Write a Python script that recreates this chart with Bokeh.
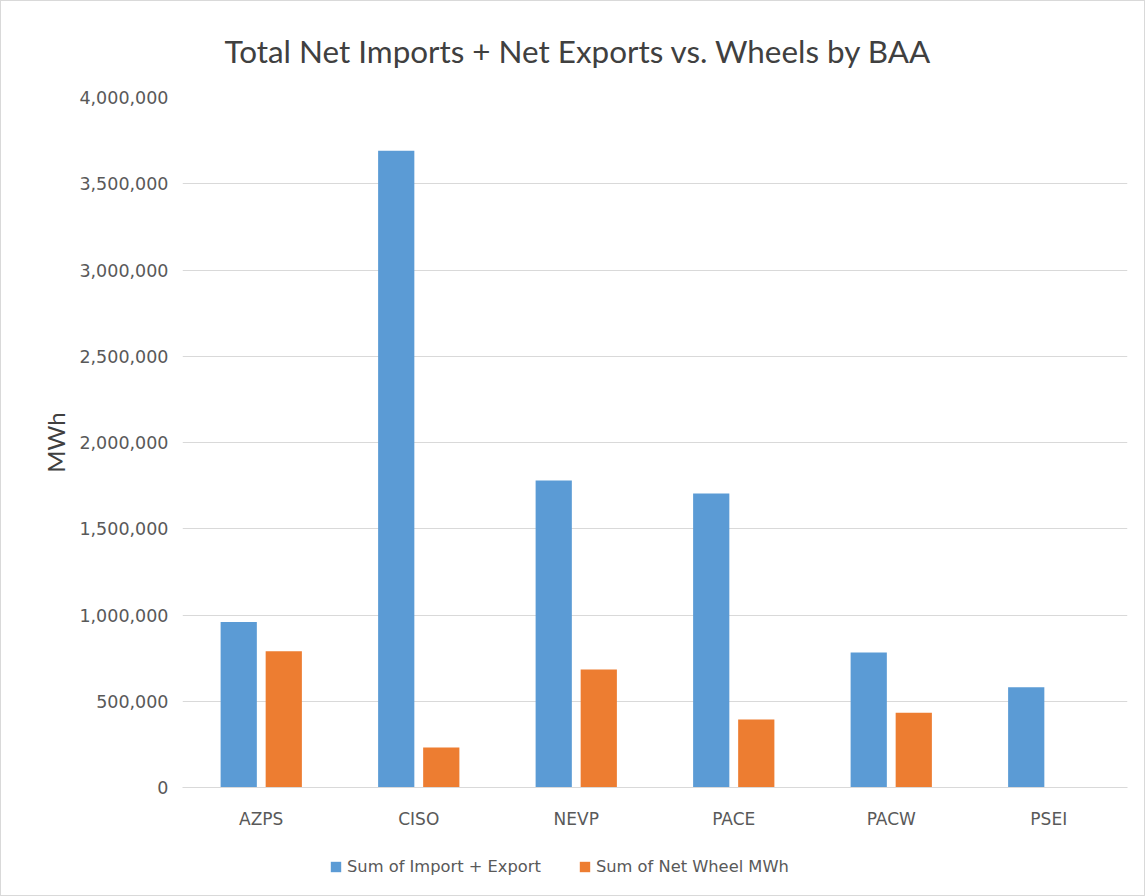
from bokeh.plotting import figure
from bokeh.models import (FactorRange, ColumnDataSource, Legend, LegendItem,
                          NumeralTickFormatter, FixedTicker)
from bokeh.layouts import column
from bokeh.transform import dodge
from bokeh.embed import file_html
from bokeh.resources import INLINE

categories = ["AZPS", "CISO", "NEVP", "PACE", "PACW", "PSEI"]
import_export = [960000, 3692000, 1780000, 1704000, 783000, 581000]
net_wheel = [790000, 232000, 684000, 394000, 433000, 0]
y_ticks = [0, 500000, 1000000, 1500000, 2000000, 2500000, 3000000, 3500000, 4000000]
series_names = ["Sum of Import + Export", "Sum of Net Wheel MWh"]
series_colors = ["#5B9BD5", "#ED7D31"]

src = ColumnDataSource(dict(cat=categories, a=import_export, b=net_wheel))

p = figure(x_range=FactorRange(*categories, range_padding=0), y_range=(0, 4000000),
           width=1143, height=831, output_backend="svg", toolbar_location=None,
           min_border_left=181, min_border_right=17, min_border_top=96, min_border_bottom=45)

p.title.text = "Total Net Imports + Net Exports vs. Wheels by BAA"
p.title.align = "left"
p.title.offset = 42
p.title.text_font = "Lato"
p.title.text_font_size = "31.4px"
p.title.text_font_style = "normal"
p.title.text_color = "#404040"
p.title.standoff = 56

r1 = p.vbar(x=dodge("cat", -0.143, range=p.x_range), top="a", width=0.23, source=src,
            fill_color=series_colors[0], line_color=None)
r2 = p.vbar(x=dodge("cat", 0.143, range=p.x_range), top="b", width=0.23, source=src,
            fill_color=series_colors[1], line_color=None)

p.outline_line_color = None
p.xgrid.grid_line_color = None
p.ygrid.grid_line_color = "#d9d9d9"
p.ygrid.grid_line_width = 1

p.yaxis.ticker = FixedTicker(ticks=y_ticks)
p.yaxis.formatter = NumeralTickFormatter(format="0,0")
p.yaxis.axis_line_color = None
p.yaxis.major_tick_line_color = None
p.yaxis.minor_tick_line_color = None
p.yaxis.major_label_standoff = 8
p.yaxis.major_label_text_font = "DejaVu Sans"
p.yaxis.major_label_text_font_size = "17.5px"
p.yaxis.major_label_text_color = "#595959"
p.yaxis.axis_label = "MWh"
p.yaxis.axis_label_text_font = "Lato"
p.yaxis.axis_label_text_font_size = "24px"
p.yaxis.axis_label_text_font_style = "normal"
p.yaxis.axis_label_text_color = "#404040"
p.yaxis.axis_label_standoff = 6

p.xaxis.axis_line_color = "#d9d9d9"
p.xaxis.major_tick_line_color = None
p.xaxis.minor_tick_line_color = None
p.xaxis.major_label_standoff = 15
p.xaxis.major_label_text_font = "DejaVu Sans"
p.xaxis.major_label_text_font_size = "17px"
p.xaxis.major_label_text_color = "#595959"

# legend strip below the chart (its frame is aligned with the main frame)
lg = figure(width=1143, height=63, output_backend="svg", toolbar_location=None,
            x_axis_location=None, y_axis_location=None, x_range=(0, 1), y_range=(0, 1),
            min_border_left=0, min_border_right=0, min_border_top=0, min_border_bottom=0,
            outline_line_color=None)
lg.grid.visible = False
offscreen = ColumnDataSource(dict(x=[-10], top=[-10]))
g1 = lg.vbar(x="x", top="top", width=0.1, source=offscreen, fill_color=series_colors[0], line_color=None)
g2 = lg.vbar(x="x", top="top", width=0.1, source=offscreen, fill_color=series_colors[1], line_color=None)
legend = Legend(items=[LegendItem(label=series_names[0], renderers=[g1]),
                       LegendItem(label=series_names[1], renderers=[g2])],
                orientation="horizontal", location=(147, 19),
                label_text_font="DejaVu Sans", label_text_font_size="16.3px",
                label_text_color="#595959", glyph_width=13, glyph_height=13,
                spacing=37, label_standoff=5, border_line_color=None,
                background_fill_alpha=0, margin=0, padding=6)
lg.add_layout(legend, "center")

layout = column(p, lg, spacing=0)
layout.styles = {"border": "1px solid #d9d9d9"}

open("out.html", "w").write(file_html(layout, INLINE))
